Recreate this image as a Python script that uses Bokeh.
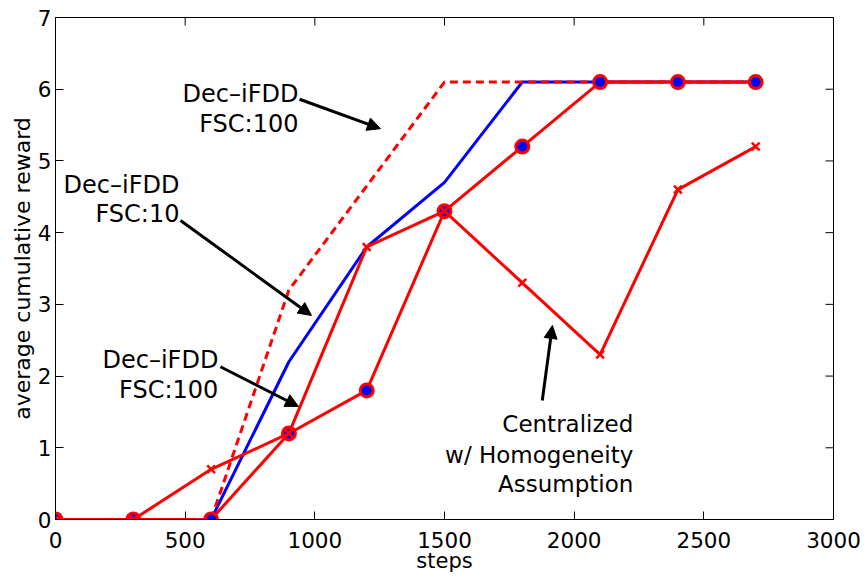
from bokeh.plotting import figure
from bokeh.models import Range1d, FixedTicker, Arrow, NormalHead, ColumnDataSource
from bokeh.core.properties import value
from bokeh.embed import file_html
from bokeh.resources import INLINE

# ---- data ----
steps = [0, 300, 600, 900, 1200, 1500, 1800, 2100, 2400, 2700]
dec_fsc100_dashed = [0, 0, 0, 3.2, 4.65, 6.1, 6.1, 6.1, 6.1, 6.1]
dec_fsc10 = [0, 0, 0, 2.2, 3.8, 4.7, 6.1, 6.1, 6.1, 6.1]
dec_fsc100_circle = [0, 0, 0, 1.2, 1.8, 4.3, 5.2, 6.1, 6.1, 6.1]
centralized = [0, 0, 0.7, 1.2, 3.8, 4.3, 3.3, 2.3, 4.6, 5.2]

x_ticks = [0, 500, 1000, 1500, 2000, 2500, 3000]
y_ticks = [0, 1, 2, 3, 4, 5, 6, 7]

# annotation texts (right-aligned, alphabetic baseline)
ann_text = ["Dec\u2013iFDD", "FSC:100",
            "Dec\u2013iFDD", "FSC:10",
            "Dec\u2013iFDD", "FSC:100",
            "Centralized", "w/ Homogeneity", "Assumption"]
ann_x = [937, 937, 478, 478, 628, 628, 2228, 2228, 2228]
ann_y = [5.93, 5.52, 4.66, 4.26, 2.22, 1.81, 1.325, 0.893, 0.498]
ann_size = ["24px", "24px", "24px", "24px", "24px", "24px", "23px", "23px", "23px"]

# arrows (start -> end) in data units
arr_x0 = [941, 482, 636, 1877]
arr_y0 = [5.86, 4.17, 2.13, 1.66]
arr_x1 = [1253, 987, 937, 1916]
arr_y1 = [5.45, 2.845, 1.576, 2.706]

FONT = "DejaVu Sans"
X0, X1, Y0, Y1 = 0, 3000, 0, 7
FW, FH = 778, 502
TICK = 8

p = figure(frame_width=FW, frame_height=FH, output_backend="svg", toolbar_location=None,
           x_range=Range1d(X0, X1), y_range=Range1d(Y0, Y1),
           min_border_left=55, min_border_right=32, min_border_top=17, min_border_bottom=50)
p.xgrid.visible = False
p.ygrid.visible = False
p.outline_line_color = "black"
p.outline_line_width = 1
p.background_fill_color = "white"
p.border_fill_color = "white"

for ax in (p.xaxis[0], p.yaxis[0]):
    ax.axis_line_color = "black"
    ax.major_tick_line_color = "black"
    ax.major_tick_in = TICK
    ax.major_tick_out = 0
    ax.minor_tick_in = 0
    ax.minor_tick_out = 0
    ax.major_label_text_font = FONT
    ax.major_label_text_font_size = "21.5px"
    ax.major_label_text_color = "black"
    ax.axis_label_text_font = FONT
    ax.axis_label_text_font_style = "normal"
    ax.axis_label_text_color = "black"

p.xaxis[0].ticker = FixedTicker(ticks=x_ticks)
p.yaxis[0].ticker = FixedTicker(ticks=y_ticks)
p.xaxis[0].axis_label = "steps"
p.xaxis[0].axis_label_text_font_size = "21px"
p.xaxis[0].major_label_standoff = 12
p.xaxis[0].axis_label_standoff = -2
p.yaxis[0].axis_label = "average cumulative reward"
p.yaxis[0].axis_label_text_font_size = "22px"
p.yaxis[0].major_label_standoff = 4
p.yaxis[0].axis_label_standoff = 0

# inward ticks on the top and right edges of the box
dy = TICK * (Y1 - Y0) / FH
dx = TICK * (X1 - X0) / FW
p.segment(x0=x_ticks, y0=[Y1] * len(x_ticks), x1=x_ticks, y1=[Y1 - dy] * len(x_ticks),
          line_color="black", line_width=1)
p.segment(x0=[X1] * len(y_ticks), y0=y_ticks, x1=[X1 - dx] * len(y_ticks), y1=y_ticks,
          line_color="black", line_width=1)

RED = "#ff0000"
BLUE = "#0000ff"

src = ColumnDataSource(dict(x=steps, dash=dec_fsc100_dashed, blue=dec_fsc10,
                            circ=dec_fsc100_circle, cent=centralized))

p.line("x", "blue", source=src, line_color=BLUE, line_width=3)
p.line("x", "dash", source=src, line_color=RED, line_width=3, line_dash="8 5")
p.line("x", "circ", source=src, line_color=RED, line_width=3)
p.scatter("x", "circ", source=src, marker="circle", size=13, fill_color=BLUE,
          line_color=RED, line_width=3)
p.line("x", "cent", source=src, line_color=RED, line_width=3)
p.scatter("x", "cent", source=src, marker="x", size=11, line_color=RED, line_width=2.5)

tsrc = ColumnDataSource(dict(x=ann_x, y=ann_y, t=ann_text, s=ann_size))
p.text(x="x", y="y", text="t", source=tsrc, text_font=value(FONT), text_font_size="s",
       text_align="right", text_baseline="alphabetic", text_color="black")

for x0, y0, x1, y1 in zip(arr_x0, arr_y0, arr_x1, arr_y1):
    p.add_layout(Arrow(x_start=x0, y_start=y0, x_end=x1, y_end=y1,
                       line_color="black", line_width=3,
                       end=NormalHead(size=13, fill_color="black", line_color="black")))

open("out.html", "w").write(file_html(p, INLINE))
